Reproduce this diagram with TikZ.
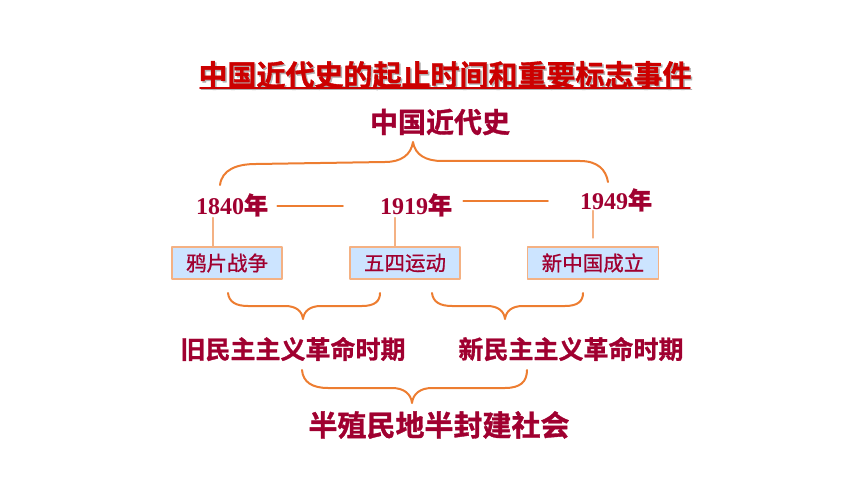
\documentclass[tikz,border=0pt]{standalone}
\usepackage{fontspec}
\setmainfont{Liberation Serif}
\newfontfamily\cjk{Noto Sans CJK SC}[FakeBold=0.8]
\newfontfamily\cjkb{Noto Sans CJK SC Bold}[FakeBold=1.2]
\usetikzlibrary{positioning}
\definecolor{wine}{RGB}{160,0,48}
\definecolor{titlered}{RGB}{204,0,0}
\definecolor{brace}{RGB}{237,125,49}
\definecolor{pale}{RGB}{244,177,131}
\definecolor{boxfill}{RGB}{204,228,255}
\begin{document}
\begin{tikzpicture}[x=1pt,y=-1pt,line join=round,line cap=round]
	\tikzstyle{year}=[text=wine,font=\bfseries\fontsize{24}{24}\selectfont,inner sep=1pt]
	\tikzstyle{event}=[draw=pale,fill=boxfill,text=wine,line width=1.2pt,
	                   font=\cjk\fontsize{20.5}{20.5}\selectfont,minimum height=32pt,inner xsep=14pt]
	\tikzstyle{period}=[text=wine,font=\cjkb\fontsize{25}{25}\selectfont]
	\tikzstyle{bracket}=[draw=brace,line width=2pt]
	\tikzstyle{link}=[draw=brace,line width=1.6pt]
	\tikzstyle{tick}=[draw=pale,line width=1.3pt]

	\useasboundingbox (0,0) rectangle (860,484);

	% title with shadow
	\node[text=gray!60,font=\cjkb\fontsize{29}{29}\selectfont] at (446.5,76.5) {中国近代史的起止时间和重要标志事件};
	\node[text=titlered,font=\cjkb\fontsize{29}{29}\selectfont] (T) at (445,75) {中国近代史的起止时间和重要标志事件};
	\draw[gray!60,line width=1.6pt] (T.west |- 0,89.5) ++(6.5,0) -- ([xshift=-3.5]T.east |- 0,89.5);
	\draw[titlered,line width=1.6pt] (T.west |- 0,88) ++(5,0) -- ([xshift=-5]T.east |- 0,88);

	\node[period,font=\cjkb\fontsize{28}{28}\selectfont] (H) at (440,122) {中国近代史};

	% years
	\node[year] (Y1) at (232,205) {1840{\cjkb 年}};
	\node[year] (Y2) at (416,205) {1919{\cjkb 年}};
	\node[year] (Y3) at (616,200) {1949{\cjkb 年}};

	% events
	\node[event] (E1) at (227,263) {鸦片战争};
	\node[event] (E2) at (405,263) {五四运动};
	\node[event] (E3) at (593,263) {新中国成立};

	\path[link] (Y1.east |- 0,206) ++(8,0) coordinate (a1) -- (343,206);
	\path[link] (Y2.east |- 0,201) ++(10,0) coordinate (a2) -- (548,201);

	\path[tick] (Y1.south -| 213,0) -- (E1.north -| 213,0);
	\path[tick] (Y2.south -| 395,0) -- (E2.north -| 395,0);
	\path[tick] (Y3.south -| 593,0) ++(0,-2) -- (593,238);

	% periods
	\node[period] (P1) at (293,349) {旧民主主义革命时期};
	\node[period] (P2) at (571,349) {新民主主义革命时期};
	\node[period,font=\cjkb\fontsize{29}{29}\selectfont] (S) at (439,425) {半殖民地半封建社会};

	% braces
	\draw[bracket] (220,185) .. controls (222,170) and (236,164) .. (256,164)
		-- (385,162) .. controls (401,162) and (411,155) .. (413,142)
		.. controls (415,155) and (426,161) .. (442,161)
		-- (580,161) .. controls (598,161) and (606,170) .. (608,182);
	\draw[bracket] (228,293) .. controls (229,302) and (236,306) .. (248,306)
		-- (285,306) .. controls (296,306) and (302,311) .. (303,319)
		.. controls (304,311) and (310,306) .. (321,306)
		-- (362,306) .. controls (375,306) and (380,301) .. (380,293);
	\draw[bracket] (432,293) .. controls (433,302) and (440,306) .. (452,306)
		-- (487,306) .. controls (498,306) and (504,311) .. (505,319)
		.. controls (506,311) and (512,306) .. (523,306)
		-- (565,306) .. controls (578,306) and (583,301) .. (583,293);
	\draw[bracket] (302,370) .. controls (303,382) and (312,388) .. (328,388)
		-- (392,388) .. controls (404,388) and (411,394) .. (412,403)
		.. controls (413,394) and (420,388) .. (432,388)
		-- (505,388) .. controls (520,388) and (527,382) .. (527,370);
\end{tikzpicture}
\end{document}
